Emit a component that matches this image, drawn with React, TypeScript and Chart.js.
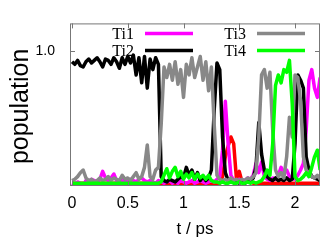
import React, { useEffect, useRef } from 'react';
import { Chart, registerables } from 'chart.js';

Chart.register(...registerables);

const times = [
  0, 0.025, 0.05, 0.075, 0.1, 0.125, 0.15, 0.175, 0.2, 0.225,
  0.25, 0.275, 0.3, 0.325, 0.35, 0.375, 0.4, 0.425, 0.45, 0.475,
  0.5, 0.525, 0.55, 0.575, 0.6, 0.625, 0.65, 0.675, 0.7, 0.725,
  0.75, 0.775, 0.8, 0.825, 0.85, 0.875, 0.9, 0.925, 0.95, 0.975,
  1.0, 1.025, 1.05, 1.075, 1.1, 1.125, 1.15, 1.175, 1.2, 1.225,
  1.25, 1.275, 1.3, 1.325, 1.35, 1.375, 1.4, 1.425, 1.45, 1.475,
  1.5, 1.525, 1.55, 1.575, 1.6, 1.625, 1.65, 1.675, 1.7, 1.725,
  1.75, 1.775, 1.8, 1.825, 1.85, 1.875, 1.9, 1.925, 1.95, 1.975,
  2.0, 2.025, 2.05, 2.075, 2.1, 2.125, 2.15, 2.175, 2.2, 2.225,
];

const ti1 = [
  0.00, -0.01, 0.01, 0.00, -0.02, 0.02, 0.01, 0.03, 0.02, 0.01,
  0.03, 0.09, 0.04, 0.02, 0.04, 0.07, 0.02, -0.01, 0.03, 0.02,
  0.01, 0.03, 0.02, 0.01, 0.03, 0.04, 0.02, 0.01, 0.02, 0.01,
  0.00, 0.02, 0.01, 0.00, 0.01, 0.02, 0.00, 0.01, 0.00, 0.02,
  0.01, 0.00, 0.01, 0.02, 0.00, 0.01, 0.02, 0.01, 0.00, 0.01,
  0.02, 0.01, 0.03, 0.05, 0.25, 0.62, 0.30, 0.06, 0.02, 0.01,
  0.03, 0.01, 0.02, 0.04, 0.03, 0.06, 0.15, 0.08, 0.16, 0.05,
  0.03, 0.02, 0.04, 0.03, 0.06, 0.12, 0.08, 0.10, 0.05, 0.04,
  0.03, 0.06, 0.10, 0.15, 0.40, 0.78, 0.86, 0.72, 0.65, 0.80,
];

const ti2 = [
  0.92, 0.90, 0.93, 0.89, 0.88, 0.92, 0.94, 0.91, 0.93, 0.95,
  0.92, 0.88, 0.94, 0.93, 0.90, 0.95, 0.92, 0.87, 0.95, 0.90,
  0.96, 0.91, 0.97, 0.82, 0.95, 0.76, 0.96, 0.72, 0.94, 0.86,
  0.95, 0.90, 0.05, 0.02, 0.01, 0.03, 0.02, 0.01, 0.03, 0.05,
  0.04, 0.12, 0.06, 0.10, 0.03, 0.08, 0.02, 0.05, 0.02, 0.04,
  0.10, 0.55, 0.91, 0.86, 0.35, 0.08, 0.02, 0.01, 0.02, 0.01,
  0.00, 0.01, 0.00, 0.01, 0.02, 0.04, 0.12, 0.46, 0.22, 0.10,
  0.05, 0.03, 0.02, 0.04, 0.02, 0.03, 0.02, 0.04, 0.02, 0.03,
  0.30, 0.82, 0.78, 0.72, 0.20, 0.10, 0.05, 0.04, 0.03, 0.02,
];

const ti3 = [
  0.02, 0.03, 0.05, 0.08, 0.10, 0.04, 0.02, 0.03, 0.01, 0.02,
  0.04, 0.02, 0.03, 0.05, 0.02, 0.04, 0.03, 0.02, 0.06, 0.03,
  0.04, 0.02, 0.05, 0.08, 0.03, 0.05, 0.12, 0.29, 0.05, 0.03,
  0.10, 0.12, 0.45, 0.88, 0.80, 0.90, 0.78, 0.92, 0.75, 0.86,
  0.65, 0.90, 0.82, 0.95, 0.80, 0.88, 0.96, 0.78, 0.92, 0.70,
  0.88, 0.45, 0.06, 0.03, 0.02, 0.03, 0.02, 0.04, 0.02, 0.03,
  0.02, 0.03, 0.02, 0.04, 0.03, 0.05, 0.08, 0.35, 0.82, 0.86,
  0.72, 0.84, 0.40, 0.10, 0.05, 0.08, 0.04, 0.20, 0.50, 0.35,
  0.82, 0.80, 0.62, 0.20, 0.10, 0.08, 0.05, 0.04, 0.06, 0.03,
];

const ti4 = [
  0, 0, 0, 0, 0, 0, 0, 0, 0, 0,
  0, 0, 0, 0, 0, 0, 0, 0, 0, 0,
  0, 0, 0, 0, 0, 0, 0, 0, 0, 0,
  0, 0, 0.01, 0.06, 0.11, 0.04, 0.09, 0.12, 0.05, 0.09,
  0.03, 0.07, 0.04, 0.08, 0.03, 0.07, 0.04, 0.06, 0.03, 0.06,
  0.02, 0.01, 0.01, 0.00, 0.01, 0.00, 0.00, 0.01, 0.00, 0.00,
  0.01, 0.00, 0.00, 0.01, 0.00, 0.01, 0.00, 0.01, 0.02, 0.05,
  0.10, 0.06, 0.30, 0.74, 0.82, 0.76, 0.86, 0.84, 0.93, 0.60,
  0.05, 0.02, 0.03, 0.05, 0.08, 0.05, 0.12, 0.20, 0.25, 0.10,
];

const other = [
  0, 0, 0, 0, 0, 0, 0, 0, 0, 0,
  0, 0, 0, 0, 0, 0, 0, 0, 0, 0,
  0, 0, 0, 0, 0, 0, 0, 0, 0, 0,
  0, 0, 0, 0, 0, 0, 0, 0, 0, 0,
  0, 0, 0, 0, 0, 0, 0, 0, 0, 0,
  0, 0, 0, 0, 0.05, 0.20, 0.28, 0.35, 0.30, 0.03,
  0.09, 0.01, 0.02, 0.03, 0.01, 0, 0, 0, 0, 0,
  0, 0, 0, 0, 0, 0, 0, 0, 0, 0,
  0, 0, 0, 0, 0, 0, 0, 0, 0, 0,
];

const xTicks = [0, 0.5, 1, 1.5, 2];
const yTicks = [1.0];
const yTickLabels = ['1.0'];
const yTitle = 'population';

const seriesNames = ['Ti1', 'Ti2', 'Ti3', 'Ti4'];
const seriesColors = ['#ff00ff', '#000000', '#888888', '#00ff00'];
const otherColor = '#ff0000';

const toPoints = (vals: number[]) => times.map((t, i) => ({ x: t, y: vals[i] }));

const frameTicksPlugin = {
  id: 'frameTicks',
  afterDatasetsDraw(chart: any) {
    const { ctx, chartArea: a, scales } = chart;
    ctx.save();
    ctx.strokeStyle = '#777777';
    ctx.lineWidth = 1;
    ctx.strokeRect(a.left + 0.5, a.top + 0.5, a.right - a.left - 1, a.bottom - a.top - 1);
    ctx.beginPath();
    for (const v of xTicks) {
      const px = Math.round(scales.x.getPixelForValue(v)) + 0.5;
      ctx.moveTo(px, a.bottom);
      ctx.lineTo(px, a.bottom - 5);
      ctx.moveTo(px, a.top);
      ctx.lineTo(px, a.top + 5);
    }
    for (const v of yTicks) {
      const py = Math.round(scales.y.getPixelForValue(v)) + 0.5;
      ctx.moveTo(a.left, py);
      ctx.lineTo(a.left + 5, py);
      ctx.moveTo(a.right, py);
      ctx.lineTo(a.right - 5, py);
    }
    ctx.stroke();
    ctx.restore();
  },
};

const keyPlugin = {
  id: 'keyBox',
  afterDraw(chart: any) {
    const { ctx, chartArea: a } = chart;
    ctx.save();
    // y axis title
    ctx.fillStyle = '#000';
    ctx.font = '25px "Liberation Sans", Arial, sans-serif';
    ctx.textAlign = 'center';
    ctx.textBaseline = 'middle';
    ctx.translate(21, a.top + 83);
    ctx.rotate(-Math.PI / 2);
    ctx.fillText(yTitle, 0, 0);
    ctx.restore();

    ctx.save();
    ctx.font = '16px "Liberation Serif", serif';
    ctx.textAlign = 'right';
    ctx.textBaseline = 'middle';
    const entries = chart.data.datasets.filter((d: any) => d.label);
    entries.forEach((d: any, i: number) => {
      const col = Math.floor(i / 2);
      const row = i % 2;
      const x0 = a.left + 75 + col * 112;
      const y = a.top + 10 + row * 17;
      ctx.fillStyle = '#000';
      ctx.fillText(d.label, x0 - 11, y + 1);
      ctx.strokeStyle = d.borderColor;
      ctx.lineWidth = 3.5;
      ctx.beginPath();
      ctx.moveTo(x0, y);
      ctx.lineTo(x0 + 48, y);
      ctx.stroke();
    });
    ctx.restore();
  },
};

export default function App() {
  const ref = useRef<HTMLCanvasElement>(null);

  useEffect(() => {
    if (!ref.current) return;
    const series = [ti1, ti2, ti3, ti4];
    const datasets: any[] = series.map((vals, i) => ({
      label: seriesNames[i],
      data: toPoints(vals),
      borderColor: seriesColors[i],
      backgroundColor: seriesColors[i],
      order: 4 - i,
    }));
    datasets.push({
      label: '',
      data: toPoints(other),
      borderColor: otherColor,
      backgroundColor: otherColor,
      order: 10,
    });

    const chart = new Chart(ref.current, {
      type: 'line',
      data: { datasets },
      plugins: [frameTicksPlugin, keyPlugin],
      options: {
        responsive: false,
        animation: false,
        devicePixelRatio: 1,
        layout: { padding: { top: 10, right: 7, left: 0, bottom: 0 } },
        plugins: { legend: { display: false }, tooltip: { enabled: false } },
        elements: {
          point: { radius: 0 },
          line: { borderWidth: 3.5, tension: 0, borderJoinStyle: 'round' },
        },
        scales: {
          x: {
            type: 'linear',
            min: -0.018,
            max: 2.224,
            afterBuildTicks: (s: any) => {
              s.ticks = xTicks.map((v) => ({ value: v }));
            },
            afterFit: (s: any) => {
              s.height = 66;
            },
            ticks: {
              color: '#000',
              font: { family: '"Liberation Sans", Arial, sans-serif', size: 16 },
              padding: 8,
              maxRotation: 0,
              autoSkip: false,
              callback: (v: any) => String(v),
            },
            grid: { display: false, drawTicks: false },
            border: { display: false },
            title: {
              display: true,
              text: 't / ps',
              color: '#000',
              font: { family: '"Liberation Sans", Arial, sans-serif', size: 17 },
              padding: { top: 0, bottom: 12 },
            },
          },
          y: {
            type: 'linear',
            min: -0.021,
            max: 1.21,
            afterBuildTicks: (s: any) => {
              s.ticks = yTicks.map((v) => ({ value: v }));
            },
            afterFit: (s: any) => {
              s.width = 70;
            },
            ticks: {
              color: '#000',
              font: { family: '"Liberation Sans", Arial, sans-serif', size: 14 },
              padding: 15,
              autoSkip: false,
              callback: (v: any, i: number) => yTickLabels[i] ?? String(v),
            },
            grid: { display: false, drawTicks: false },
            border: { display: false },
            title: { display: false },
          },
        },
      },
    });
    return () => chart.destroy();
  }, []);

  return (
    <div style={{ position: 'absolute', left: 0, top: 0, width: 327, height: 252, background: '#fff' }}>
      <canvas ref={ref} width={327} height={252} />
    </div>
  );
}
